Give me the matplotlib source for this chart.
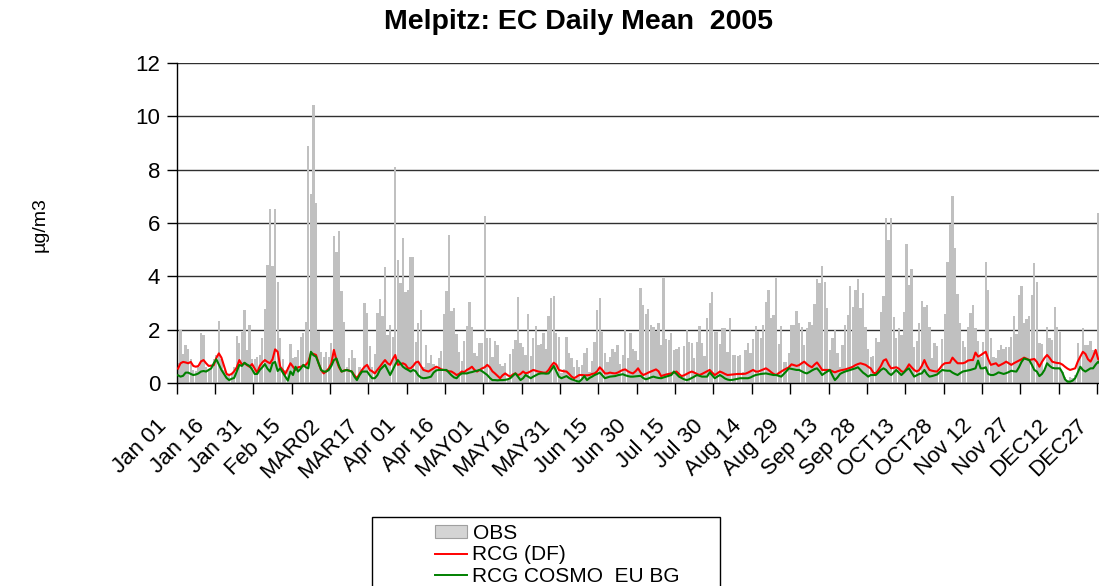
import numpy as np
import matplotlib
matplotlib.use("Agg")
import matplotlib.pyplot as plt
from matplotlib.patches import Rectangle, Patch
from matplotlib.lines import Line2D
from matplotlib.transforms import ScaledTranslation

plt.rcParams['font.family'] = ['Liberation Sans', 'DejaVu Sans']

# daily EC concentrations 2005, one value per day (15 days per row)
obs = [
    0.75, 2.0, 1.1, 1.43, 1.3, 0.9, 0.5, 0.45, 0.6, 1.87, 1.8, 0.6, 0.5, 0.55, 0.9,
    1.05, 2.33, 0.9, 0.5, 0.3, 0.35, 0.4, 0.6, 1.77, 1.5, 1.93, 2.73, 1.25, 2.17, 0.9,
    0.9, 1.0, 1.05, 1.7, 2.77, 4.44, 6.54, 4.4, 6.54, 3.8, 1.7, 0.9, 0.5, 0.6, 1.48,
    0.95, 1.0, 1.25, 1.72, 1.87, 2.3, 8.9, 7.07, 10.4, 6.75, 1.97, 1.17, 1.0, 1.17, 1.0,
    1.52, 5.5, 4.9, 5.7, 3.45, 2.3, 0.6, 0.93, 1.25, 0.93, 0.25, 0.6, 0.5, 3.0, 2.65,
    1.4, 0.6, 1.1, 2.65, 3.15, 2.52, 4.36, 1.8, 2.18, 1.75, 8.1, 4.63, 3.74, 5.42, 3.4,
    3.5, 4.73, 4.73, 1.55, 2.25, 2.74, 0.6, 1.43, 0.75, 1.07, 0.72, 0.56, 0.96, 1.2, 2.58,
    3.45, 5.55, 2.7, 2.8, 1.84, 1.17, 0.83, 1.6, 2.14, 3.03, 2.12, 1.12, 1.03, 1.5, 1.52,
    6.27, 1.68, 1.68, 1.0, 1.6, 1.42, 0.71, 0.66, 0.75, 0.15, 1.08, 1.3, 1.62, 3.24, 1.5,
    1.37, 1.06, 2.58, 1.03, 1.7, 2.16, 1.43, 1.48, 1.87, 1.3, 2.52, 3.18, 3.26, 1.9, 1.75,
    0.37, 0.55, 1.72, 1.15, 0.96, 0.6, 0.87, 0.6, 0.67, 1.12, 1.33, 0.44, 0.83, 1.55, 2.74,
    3.2, 1.93, 1.12, 0.8, 1.0, 1.28, 1.16, 1.43, 0.72, 1.06, 2.0, 0.96, 1.9, 1.3, 1.2,
    0.87, 3.58, 2.93, 2.6, 2.77, 2.18, 2.12, 1.97, 2.27, 1.43, 3.93, 1.64, 1.62, 1.87, 1.25,
    1.27, 1.35, 0.25, 1.41, 2.0, 1.56, 1.52, 0.96, 1.56, 2.16, 1.5, 1.03, 2.43, 3.0, 3.4,
    1.93, 1.93, 1.46, 2.06, 2.06, 1.18, 2.45, 1.06, 1.06, 1.03, 1.06, 0.44, 1.25, 1.5, 1.15,
    1.64, 2.16, 1.97, 1.7, 2.18, 3.05, 3.49, 2.45, 2.55, 3.95, 1.46, 2.16, 0.78, 0.78, 1.12,
    2.2, 2.2, 2.72, 2.24, 2.12, 1.43, 2.06, 2.3, 2.2, 2.95, 3.89, 3.76, 4.4, 3.8, 2.8,
    1.25, 1.7, 2.0, 1.12, 0.6, 1.43, 2.18, 2.55, 3.64, 2.87, 3.49, 3.9, 2.8, 3.39, 2.1,
    1.3, 1.0, 1.03, 1.68, 1.56, 2.68, 3.26, 6.17, 5.36, 6.2, 2.49, 1.7, 2.06, 1.81, 2.68,
    5.2, 3.68, 4.27, 1.37, 1.58, 2.24, 3.09, 2.87, 2.93, 2.12, 0.96, 1.52, 1.4, 0.4, 1.66,
    2.58, 4.55, 5.98, 7.02, 5.08, 3.33, 2.24, 1.6, 1.37, 2.12, 2.62, 2.93, 2.08, 1.58, 1.0,
    1.56, 4.55, 3.51, 1.68, 1.0, 0.93, 1.25, 1.43, 1.3, 1.37, 1.35, 1.74, 2.52, 1.84, 3.3,
    3.64, 2.24, 2.39, 2.52, 3.3, 4.49, 3.78, 1.5, 1.47, 0.5, 2.09, 1.7, 1.62, 2.84, 2.12,
    1.93, 0.44, 0.25, 0.12, 0.25, 0.19, 0.31, 1.52, 0.96, 2.06, 1.43, 1.43, 1.58, 1.25, 1.25,
    6.36, 1.5, 2.0, 1.2, 0.9,
]

rcg_df = [
    0.55, 0.75, 0.8, 0.78, 0.75, 0.8, 0.65, 0.62, 0.65, 0.82, 0.87, 0.75, 0.65, 0.66, 0.68,
    0.95, 1.12, 0.96, 0.65, 0.35, 0.31, 0.35, 0.45, 0.6, 0.87, 0.7, 0.75, 0.68, 0.62, 0.72,
    0.55, 0.4, 0.65, 0.78, 0.87, 0.8, 0.75, 0.9, 1.27, 1.18, 0.62, 0.5, 0.35, 0.55, 0.75,
    0.62, 0.5, 0.6, 0.62, 0.65, 0.69, 0.8, 1.12, 1.1, 1.06, 0.75, 0.5, 0.37, 0.45, 0.56,
    0.75, 1.25, 0.87, 0.6, 0.44, 0.48, 0.5, 0.47, 0.44, 0.3, 0.19, 0.35, 0.5, 0.62, 0.69,
    0.5, 0.45, 0.37, 0.5, 0.62, 0.75, 0.87, 0.75, 0.69, 0.9, 1.06, 0.69, 0.72, 0.75, 0.7,
    0.56, 0.56, 0.65, 0.78, 0.81, 0.65, 0.5, 0.47, 0.44, 0.5, 0.56, 0.62, 0.58, 0.52, 0.5,
    0.48, 0.45, 0.44, 0.38, 0.31, 0.35, 0.44, 0.42, 0.5, 0.55, 0.62, 0.5, 0.44, 0.5, 0.56,
    0.6, 0.69, 0.6, 0.45, 0.37, 0.28, 0.19, 0.3, 0.37, 0.3, 0.25, 0.33, 0.37, 0.3, 0.35,
    0.44, 0.37, 0.4, 0.45, 0.5, 0.47, 0.44, 0.42, 0.4, 0.4, 0.5, 0.65, 0.77, 0.7, 0.5,
    0.47, 0.45, 0.44, 0.35, 0.25, 0.19, 0.25, 0.31, 0.31, 0.3, 0.3, 0.31, 0.35, 0.37, 0.45,
    0.6, 0.5, 0.37, 0.37, 0.4, 0.38, 0.37, 0.4, 0.45, 0.5, 0.52, 0.45, 0.4, 0.37, 0.45,
    0.56, 0.4, 0.31, 0.35, 0.4, 0.44, 0.48, 0.52, 0.45, 0.27, 0.3, 0.33, 0.35, 0.37, 0.4,
    0.44, 0.35, 0.27, 0.3, 0.35, 0.4, 0.44, 0.4, 0.35, 0.31, 0.35, 0.4, 0.45, 0.5, 0.4,
    0.31, 0.37, 0.44, 0.4, 0.35, 0.31, 0.32, 0.33, 0.34, 0.35, 0.35, 0.35, 0.36, 0.4, 0.45,
    0.5, 0.44, 0.44, 0.48, 0.52, 0.56, 0.5, 0.42, 0.35, 0.31, 0.38, 0.44, 0.5, 0.55, 0.6,
    0.71, 0.68, 0.65, 0.68, 0.75, 0.81, 0.72, 0.65, 0.6, 0.7, 0.78, 0.65, 0.5, 0.5, 0.5,
    0.5, 0.45, 0.41, 0.45, 0.48, 0.5, 0.52, 0.55, 0.58, 0.62, 0.68, 0.72, 0.75, 0.72, 0.69,
    0.62, 0.56, 0.4, 0.37, 0.5, 0.65, 0.85, 0.9, 0.7, 0.56, 0.58, 0.6, 0.55, 0.45, 0.42,
    0.55, 0.71, 0.6, 0.5, 0.44, 0.5, 0.65, 0.87, 0.65, 0.5, 0.47, 0.45, 0.44, 0.55, 0.68,
    0.75, 0.76, 0.77, 0.96, 0.85, 0.75, 0.75, 0.75, 0.78, 0.85, 0.87, 0.87, 1.15, 1.0, 1.05,
    1.12, 1.18, 0.9, 0.69, 0.72, 0.75, 0.65, 0.7, 0.75, 0.81, 0.75, 0.69, 0.75, 0.8, 0.85,
    0.9, 0.96, 0.92, 0.87, 0.89, 0.91, 0.8, 0.62, 0.8, 0.95, 1.06, 0.95, 0.81, 0.78, 0.76,
    0.75, 0.7, 0.62, 0.55, 0.5, 0.53, 0.56, 0.81, 1.0, 1.18, 1.1, 0.9, 0.81, 1.0, 1.25,
    0.9, 0.85, 0.9, 0.95, 0.9,
]

rcg_cosmo = [
    0.3, 0.25, 0.28, 0.4, 0.4, 0.35, 0.31, 0.33, 0.37, 0.44, 0.46, 0.44, 0.5, 0.56, 0.75,
    0.9, 0.7, 0.5, 0.35, 0.2, 0.12, 0.17, 0.2, 0.45, 0.69, 0.65, 0.77, 0.7, 0.65, 0.52,
    0.35, 0.35, 0.5, 0.6, 0.72, 0.55, 0.44, 0.75, 0.8, 0.46, 0.56, 0.4, 0.25, 0.1, 0.44,
    0.31, 0.62, 0.44, 0.55, 0.69, 0.6, 0.56, 1.18, 1.05, 1.0, 0.75, 0.5, 0.44, 0.44, 0.5,
    0.65, 0.87, 0.93, 0.65, 0.44, 0.47, 0.5, 0.47, 0.44, 0.25, 0.12, 0.3, 0.44, 0.44, 0.44,
    0.3, 0.19, 0.19, 0.3, 0.5, 0.6, 0.69, 0.5, 0.31, 0.5, 0.7, 0.87, 0.75, 0.62, 0.55,
    0.5, 0.44, 0.5, 0.45, 0.3, 0.22, 0.19, 0.2, 0.22, 0.25, 0.4, 0.48, 0.5, 0.5, 0.5,
    0.5, 0.4, 0.3, 0.22, 0.19, 0.3, 0.37, 0.37, 0.37, 0.4, 0.42, 0.45, 0.47, 0.5, 0.45,
    0.38, 0.31, 0.2, 0.12, 0.12, 0.11, 0.12, 0.12, 0.13, 0.15, 0.19, 0.28, 0.37, 0.25, 0.12,
    0.19, 0.31, 0.25, 0.19, 0.25, 0.3, 0.35, 0.37, 0.37, 0.36, 0.37, 0.5, 0.65, 0.45, 0.25,
    0.19, 0.23, 0.27, 0.2, 0.15, 0.12, 0.08, 0.06, 0.15, 0.27, 0.12, 0.2, 0.25, 0.31, 0.35,
    0.4, 0.3, 0.19, 0.22, 0.25, 0.26, 0.27, 0.3, 0.32, 0.34, 0.3, 0.27, 0.25, 0.25, 0.26,
    0.27, 0.28, 0.2, 0.15, 0.18, 0.22, 0.25, 0.22, 0.2, 0.19, 0.22, 0.25, 0.28, 0.31, 0.44,
    0.35, 0.25, 0.2, 0.15, 0.12, 0.15, 0.2, 0.25, 0.31, 0.28, 0.25, 0.25, 0.25, 0.41, 0.3,
    0.19, 0.25, 0.31, 0.25, 0.18, 0.14, 0.12, 0.13, 0.15, 0.17, 0.19, 0.19, 0.19, 0.19, 0.22,
    0.27, 0.31, 0.33, 0.35, 0.36, 0.37, 0.35, 0.33, 0.31, 0.31, 0.28, 0.25, 0.35, 0.45, 0.56,
    0.54, 0.52, 0.5, 0.5, 0.45, 0.4, 0.37, 0.42, 0.48, 0.53, 0.56, 0.45, 0.31, 0.38, 0.44,
    0.5, 0.3, 0.12, 0.22, 0.35, 0.4, 0.44, 0.47, 0.5, 0.53, 0.56, 0.6, 0.5, 0.4, 0.33,
    0.25, 0.31, 0.31, 0.31, 0.4, 0.5, 0.56, 0.5, 0.38, 0.31, 0.4, 0.5, 0.4, 0.31, 0.4,
    0.5, 0.56, 0.4, 0.25, 0.3, 0.35, 0.37, 0.5, 0.35, 0.25, 0.27, 0.3, 0.33, 0.42, 0.5,
    0.48, 0.47, 0.47, 0.4, 0.35, 0.31, 0.38, 0.44, 0.46, 0.48, 0.5, 0.53, 0.56, 0.85, 0.56,
    0.56, 0.6, 0.35, 0.31, 0.31, 0.35, 0.41, 0.38, 0.35, 0.38, 0.42, 0.47, 0.45, 0.44, 0.6,
    0.8, 0.93, 0.9, 0.87, 0.7, 0.5, 0.44, 0.27, 0.35, 0.5, 0.75, 0.65, 0.58, 0.56, 0.56,
    0.56, 0.4, 0.15, 0.06, 0.06, 0.1, 0.19, 0.4, 0.62, 0.5, 0.44, 0.5, 0.56, 0.56, 0.7,
    0.81, 0.7, 0.6, 0.6, 0.6,
]

tick_labels = ['Jan 01', 'Jan 16', 'Jan 31', 'Feb 15', 'MAR02', 'MAR17', 'Apr 01',
               'Apr 16', 'MAY01', 'MAY16', 'MAY31', 'Jun 15', 'Jun 30', 'Jul 15',
               'Jul 30', 'Aug 14', 'Aug 29', 'Sep 13', 'Sep 28', 'OCT13', 'OCT28',
               'Nov 12', 'Nov 27', 'DEC12', 'DEC27']

days = np.arange(len(obs))
W, H = 1099, 586

fig = plt.figure(figsize=(W / 100, H / 100), dpi=100)
# plot area runs a little past the right edge of the image
ax = fig.add_axes([176.7 / W, (H - 383.3) / H, 933 / W, 320.6 / H])

ax.bar(days + 0.5, obs, width=0.9, color='#c0c0c0', linewidth=0, zorder=2)
ax.plot(days + 0.5, rcg_df, color='#ff0000', lw=1.5, zorder=3)
ax.plot(days + 0.5, rcg_cosmo, color='#008000', lw=1.5, zorder=4)

ax.set_xlim(0, len(obs))
ax.set_ylim(0, 12)
ax.set_yticks(range(0, 13, 2))
ax.yaxis.grid(True, color='#303030', lw=1.0)
ax.set_axisbelow(True)

ax.set_xticks(np.arange(0, 361, 15))
ax.set_xticklabels(tick_labels, rotation=45, ha='right', va='top')
ax.tick_params(axis='x', length=8, width=1, pad=15, labelsize=16)
ax.tick_params(axis='y', length=7, width=1, pad=5, labelsize=16)
shift = ScaledTranslation(-6 / 100, 0, fig.dpi_scale_trans)
for lab in ax.get_xticklabels():
    lab.set_transform(lab.get_transform() + shift)

for side in ['top', 'right']:
    ax.spines[side].set_visible(False)
for side in ['left', 'bottom']:
    ax.spines[side].set_color('black')
    ax.spines[side].set_linewidth(1)

fig.text(579 / W, 1 - 22 / H, 'Melpitz: EC Daily Mean  2005', ha='center', va='center',
         fontsize=20.5, fontweight='bold')
fig.text(40 / W, 1 - 225 / H, 'µg/m3', rotation=90, ha='center', va='center', fontsize=14)

# legend box hangs off the bottom edge
fig.patches.append(Rectangle((372 / W, -0.1), 348 / W, (H - 517) / H + 0.1,
                             transform=fig.transFigure, fill=False,
                             edgecolor='black', lw=1))
handles = [Patch(facecolor='#d4d4d4', edgecolor='#a0a0a0', lw=0.8),
           Line2D([], [], color='#ff0000', lw=1.4),
           Line2D([], [], color='#008000', lw=1.4)]
fig.legend(handles, ['OBS', 'RCG (DF)', 'RCG COSMO  EU BG'], loc='upper left',
           bbox_to_anchor=(435 / W, (H - 524) / H), frameon=False, fontsize=15,
           borderpad=0, borderaxespad=0, handlelength=1.55, handleheight=0.6,
           handletextpad=0.25, labelspacing=0.12)

fig.savefig('out.png', dpi=100)
